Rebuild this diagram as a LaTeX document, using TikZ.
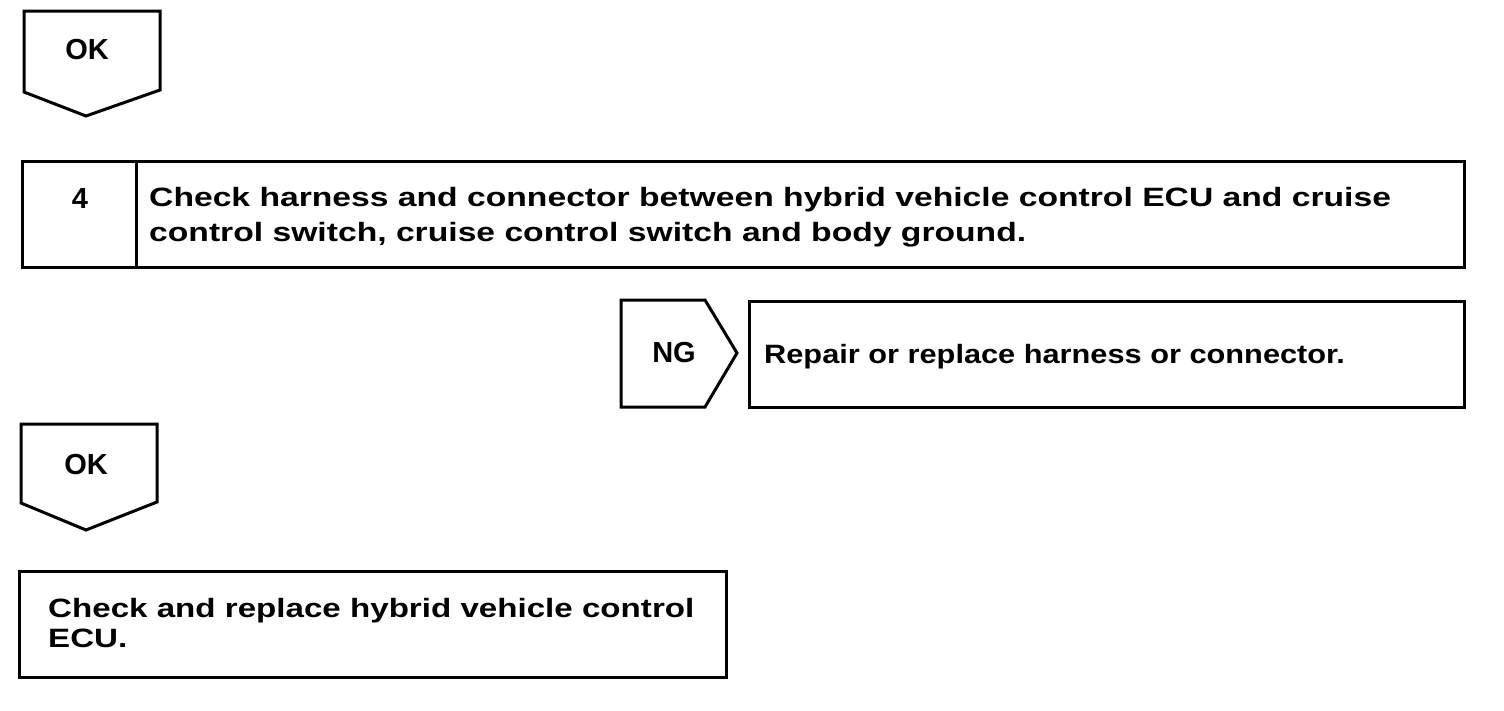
\documentclass[tikz,border=0pt]{standalone}
\usepackage{graphicx}
\usepackage{fontspec}
\setmainfont{Liberation Sans}
\newcommand\stretchtxt[2]{\scalebox{#1}[1]{#2}}
\begin{document}
\begin{tikzpicture}[x=1pt,y=-1pt,
  shapeline/.style={draw=black,line width=3pt,line join=miter},
  bigtxt/.style={font=\bfseries\fontsize{26.5}{32}\selectfont,inner sep=0pt,anchor=base west},
  tagtxt/.style={font=\bfseries\fontsize{29}{34}\selectfont,inner sep=0pt}]
\useasboundingbox (0,0) rectangle (1504,710);
% OK 1
\draw[shapeline] (24,11) -- (160,11) -- (160,90) -- (86,116) -- (24,92) -- cycle;
\node[tagtxt] (ok1) at (87,50) {OK};
% Step 4
\draw[shapeline] (22,161) rectangle (1464,267);
\draw[shapeline] (136,161) -- (136,267);
\node[tagtxt] (n4) at (80,199) {4};
\node[bigtxt] (s4a) at (149,206) {\stretchtxt{1.27}{Check harness and connector between hybrid vehicle control ECU and cruise}};
\node[bigtxt] (s4b) at (149,241) {\stretchtxt{1.27}{control switch, cruise control switch and body ground.}};
% NG
\draw[shapeline] (621,300) -- (705,300) -- (737,353) -- (705,407) -- (621,407) -- cycle;
\node[tagtxt] (ng) at (674,353) {NG};
\draw[shapeline] (749,301) rectangle (1464,407);
\node[bigtxt] (rep) at (764,363) {\stretchtxt{1.16}{Repair or replace harness or connector.}};
% OK 2
\draw[shapeline] (21,424) -- (157,424) -- (157,502) -- (86,530) -- (21,503) -- cycle;
\node[tagtxt] (ok2) at (86,465) {OK};
% Final
\draw[shapeline] (19,571) rectangle (726,677);
\node[bigtxt] (fa) at (48,617) {\stretchtxt{1.25}{Check and replace hybrid vehicle control}};
\node[bigtxt] (fb) at (48,647) {\stretchtxt{1.25}{ECU.}};
\end{tikzpicture}
\end{document}
